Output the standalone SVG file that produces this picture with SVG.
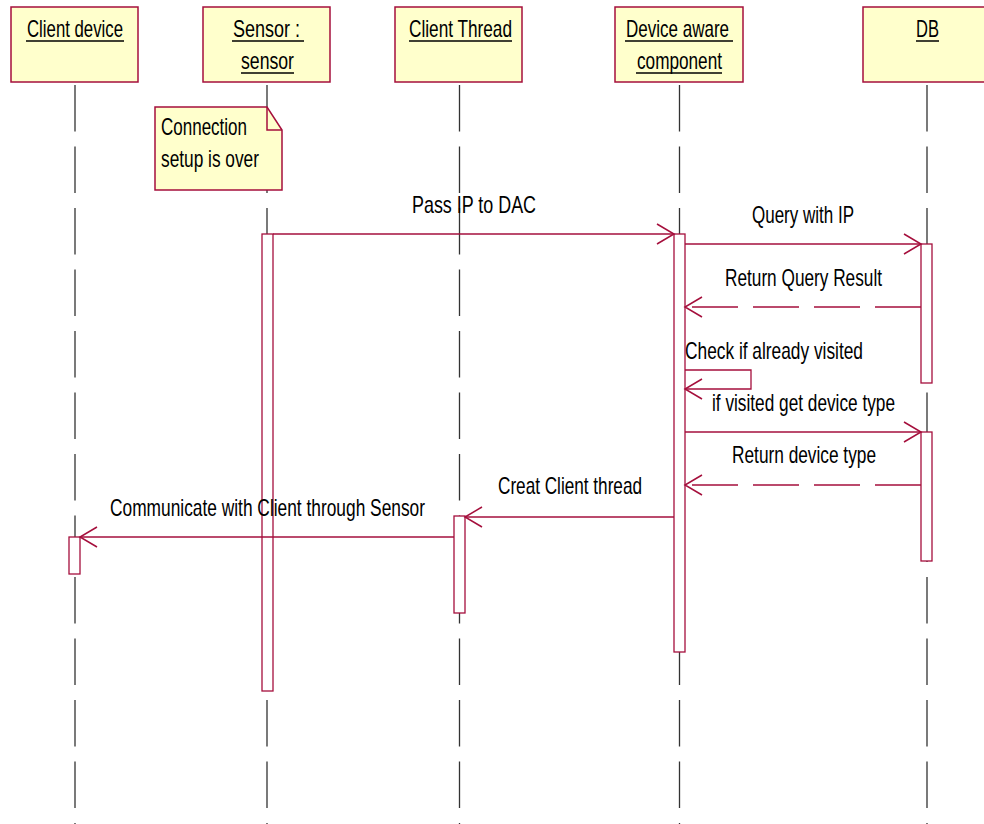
<svg xmlns="http://www.w3.org/2000/svg" width="984" height="824" viewBox="0 0 984 824">
  <style>
    .obj { fill: #FFFFCC; stroke: #A50F3C; stroke-width: 1.5; }
    .act { fill: #FFFFFF; stroke: #A50F3C; stroke-width: 1.3; }
    .life { stroke: #333333; stroke-width: 1.3; stroke-dasharray: 46.5 15; fill: none; }
    .ul { stroke: #000000; stroke-width: 1.5; }
    .msg { stroke: #A50F3C; stroke-width: 1.3; fill: none; }
    .ret { stroke: #A50F3C; stroke-width: 1.3; fill: none; stroke-dasharray: 46 15; }
    .head { stroke: #A50F3C; stroke-width: 1.5; fill: none; }
    text { font-family: "Liberation Sans", Arial, sans-serif; font-size: 24px; fill: #000000; }
  </style>
  <defs>
    <marker id="open" viewBox="0 0 20 22" refX="18" refY="11" markerWidth="20" markerHeight="22" markerUnits="userSpaceOnUse" orient="auto">
      <polyline points="1,1 18,11 1,21" class="head"/>
    </marker>
  </defs>
  <rect width="984" height="824" fill="#FFFFFF"/>

  <!-- lifelines -->
  <g id="lifelines">
    <line class="life" x1="75" y1="85" x2="75" y2="824"/>
    <line class="life" x1="267" y1="85" x2="267" y2="824"/>
    <line class="life" x1="459.5" y1="85" x2="459.5" y2="824"/>
    <line class="life" x1="679.5" y1="85" x2="679.5" y2="824"/>
    <line class="life" x1="927" y1="85" x2="927" y2="824"/>
  </g>

  <!-- objects -->
  <g id="client-device">
    <rect class="obj" x="11" y="7" width="127" height="75"/>
    <text x="27" y="37" textLength="96" lengthAdjust="spacingAndGlyphs">Client device</text>
    <line class="ul" x1="26" y1="41" x2="124" y2="41"/>
    <rect class="act" x="69" y="537" width="11" height="37"/>
  </g>
  <g id="sensor">
    <rect class="obj" x="203" y="7" width="127" height="75"/>
    <text x="233" y="37" textLength="67" lengthAdjust="spacingAndGlyphs">Sensor :</text>
    <line class="ul" x1="232" y1="41" x2="304" y2="41"/>
    <text x="241" y="69" textLength="53" lengthAdjust="spacingAndGlyphs">sensor</text>
    <line class="ul" x1="241" y1="73" x2="294" y2="73"/>
    <rect class="act" x="262" y="234" width="11" height="457"/>
  </g>
  <g id="client-thread">
    <rect class="obj" x="395" y="7" width="127" height="75"/>
    <text x="409" y="37" textLength="103" lengthAdjust="spacingAndGlyphs">Client Thread</text>
    <line class="ul" x1="409" y1="41" x2="512" y2="41"/>
    <rect class="act" x="454" y="516" width="11" height="97"/>
  </g>
  <g id="device-aware-component">
    <rect class="obj" x="615" y="7" width="128" height="75"/>
    <text x="626" y="37" textLength="103" lengthAdjust="spacingAndGlyphs">Device aware</text>
    <line class="ul" x1="625" y1="41" x2="733" y2="41"/>
    <text x="637" y="69" textLength="85" lengthAdjust="spacingAndGlyphs">component</text>
    <line class="ul" x1="636" y1="73" x2="722" y2="73"/>
    <rect class="act" x="674" y="234" width="11" height="418"/>
  </g>
  <g id="db">
    <rect class="obj" x="863" y="7" width="130" height="75"/>
    <text x="916" y="37" textLength="23" lengthAdjust="spacingAndGlyphs">DB</text>
    <line class="ul" x1="916" y1="41" x2="939" y2="41"/>
    <rect class="act" x="921" y="244" width="11" height="139"/>
    <rect class="act" x="921" y="432" width="11" height="129"/>
  </g>

  <!-- note -->
  <g id="note">
    <path class="obj" d="M155,107 H267 L282,130 V190 H155 Z"/>
    <polyline class="head" points="267,107 267,130 282,130"/>
    <text x="161" y="135" textLength="86" lengthAdjust="spacingAndGlyphs">Connection</text>
    <text x="161" y="167" textLength="98" lengthAdjust="spacingAndGlyphs">setup is over</text>
  </g>

  <!-- messages -->
  <g id="connectors">
    <line class="msg" x1="273" y1="234" x2="674" y2="234" marker-end="url(#open)"/>
    <text x="412" y="213" textLength="124" lengthAdjust="spacingAndGlyphs">Pass IP to DAC</text>

    <line class="msg" x1="685" y1="244" x2="921" y2="244" marker-end="url(#open)"/>
    <text x="752" y="223" textLength="102" lengthAdjust="spacingAndGlyphs">Query with IP</text>

    <line class="ret" x1="921" y1="307" x2="685" y2="307" marker-end="url(#open)"/>
    <text x="725" y="286" textLength="157" lengthAdjust="spacingAndGlyphs">Return Query Result</text>

    <polyline class="msg" points="685,370 751,370 751,389 685,389" marker-end="url(#open)"/>
    <text x="685" y="359" textLength="178" lengthAdjust="spacingAndGlyphs">Check if already visited</text>

    <line class="msg" x1="685" y1="432" x2="921" y2="432" marker-end="url(#open)"/>
    <text x="712" y="411" textLength="183" lengthAdjust="spacingAndGlyphs">if visited get device type</text>

    <line class="ret" x1="921" y1="485" x2="685" y2="485" marker-end="url(#open)"/>
    <text x="732" y="463" textLength="144" lengthAdjust="spacingAndGlyphs">Return device type</text>

    <line class="msg" x1="674" y1="517" x2="465" y2="517" marker-end="url(#open)"/>
    <text x="498" y="494" textLength="144" lengthAdjust="spacingAndGlyphs">Creat Client thread</text>

    <line class="msg" x1="454" y1="537" x2="80" y2="537" marker-end="url(#open)"/>
    <text x="110" y="516" textLength="315" lengthAdjust="spacingAndGlyphs">Communicate with Client through Sensor</text>
  </g>
</svg>
